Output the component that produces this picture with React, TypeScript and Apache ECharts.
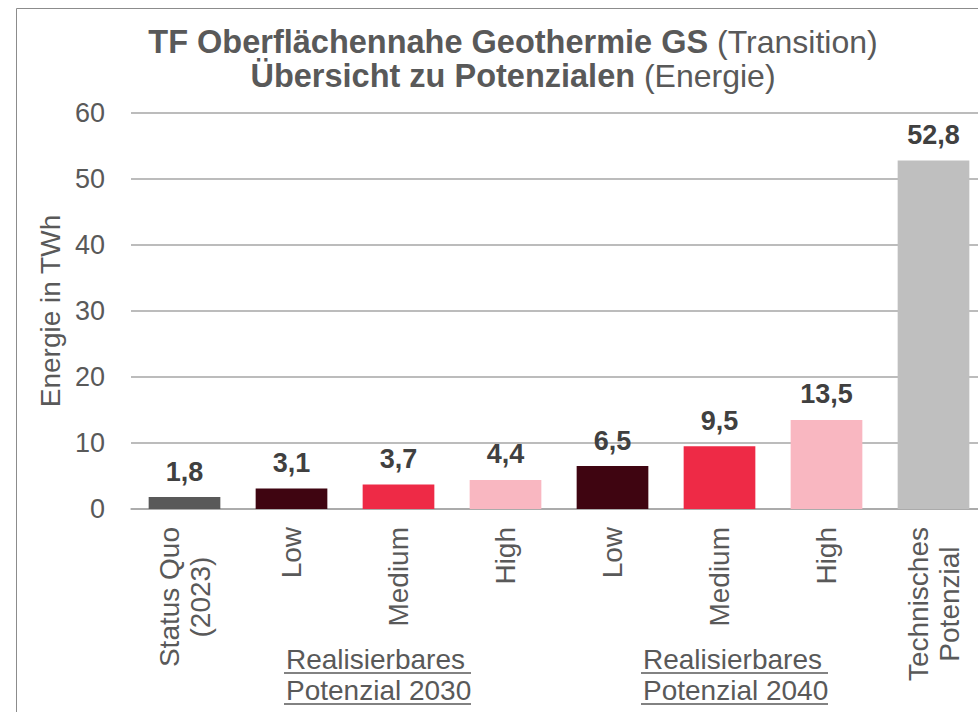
import React, { useEffect, useRef } from "react";
import * as echarts from "echarts";

const categories = [
  "Status Quo\n(2023)",
  "Low",
  "Medium",
  "High",
  "Low",
  "Medium",
  "High",
  "Technisches\nPotenzial",
];
const values = [1.8, 3.1, 3.7, 4.4, 6.5, 9.5, 13.5, 52.8];
const barColors = [
  "#595959",
  "#3F0511",
  "#EE2A46",
  "#F9B7C1",
  "#3F0511",
  "#EE2A46",
  "#F9B7C1",
  "#BFBFBF",
];
const yTicks = { min: 0, max: 60, interval: 10 };
const groupLabels = ["Realisierbares \nPotenzial 2030", "Realisierbares \nPotenzial 2040"];

const FONT = "'Liberation Sans', Arial, sans-serif";
const TXT = "#595959";

export default function App() {
  const ref = useRef<HTMLDivElement>(null);
  useEffect(() => {
    if (!ref.current) return;
    const chart = echarts.init(ref.current, undefined, { renderer: "svg" });
    const groupX = [286, 643];
    const lineY1 = 673;
    const lineY2 = 704;
    const groupW = 187;
    const graphic: any[] = [
      {
        type: "rect",
        shape: { x: 16.5, y: 8.5, width: 1200, height: 900 },
        style: { fill: "none", stroke: "#8C8C8C", lineWidth: 1 },
        silent: true,
        z: 0,
      },
      {
        type: "text",
        x: 513,
        y: 25,
        style: {
          text:
            "{b|TF Oberflächennahe Geothermie GS}{n| (Transition)}\n{b|Übersicht zu Potenzialen}{n| (Energie)}",
          align: "center",
          verticalAlign: "top",
          fill: TXT,
          rich: {
            b: { fontFamily: FONT, fontSize: 32.5, fontWeight: "bold", fill: TXT, lineHeight: 34 },
            n: { fontFamily: FONT, fontSize: 32, fill: TXT, lineHeight: 34 },
          },
        },
      },
    ];
    groupLabels.forEach((g, i) => {
      graphic.push({
        type: "text",
        x: groupX[i],
        y: 644,
        style: {
          text: g,
          align: "left",
          verticalAlign: "top",
          fontFamily: FONT,
          fontSize: 28,
          lineHeight: 31,
          fill: TXT,
        },
      });
      graphic.push({
        type: "line",
        shape: { x1: groupX[i] - 2, y1: lineY1, x2: groupX[i] - 2 + groupW, y2: lineY1 },
        style: { stroke: TXT, lineWidth: 1.5 },
      });
      graphic.push({
        type: "line",
        shape: { x1: groupX[i] - 2, y1: lineY2, x2: groupX[i] - 2 + groupW, y2: lineY2 },
        style: { stroke: TXT, lineWidth: 1.5 },
      });
    });

    chart.setOption({
      animation: false,
      grid: { left: 131, right: 13, top: 113, bottom: 203, containLabel: false },
      xAxis: {
        type: "category",
        data: categories,
        axisLine: { show: true, lineStyle: { color: "#A6A6A6", width: 1.5 } },
        axisTick: { show: false },
        axisLabel: {
          interval: 0,
          rotate: 90,
          margin: 18,
          color: TXT,
          fontFamily: FONT,
          fontSize: 28,
          lineHeight: 31,
          formatter: (v: string) =>
            v
              .split("\n")
              .map((s) => "{c|" + s + "}")
              .join("\n"),
          rich: {
            c: { align: "center", fontFamily: FONT, fontSize: 28, lineHeight: 31, color: TXT },
          },
        },
      },
      yAxis: {
        type: "value",
        min: yTicks.min,
        max: yTicks.max,
        interval: yTicks.interval,
        name: "Energie in TWh",
        nameLocation: "middle",
        nameGap: 65,
        nameTextStyle: { color: TXT, fontFamily: FONT, fontSize: 28 },
        axisLine: { show: false },
        axisTick: { show: false },
        axisLabel: { color: TXT, fontFamily: FONT, fontSize: 27, margin: 26 },
        splitLine: { lineStyle: { color: "#A6A6A6", width: 1.5 } },
      },
      series: [
        {
          type: "bar",
          data: values.map((v, i) => ({ value: v, itemStyle: { color: barColors[i] } })),
          barCategoryGap: "33%",
          label: {
            show: true,
            position: "top",
            distance: 12,
            color: "#404040",
            fontFamily: FONT,
            fontSize: 27,
            fontWeight: "bold",
            formatter: (p: any) => String(p.value).replace(".", ","),
          },
        },
      ],
      graphic,
    });
    return () => chart.dispose();
  }, []);
  return (
    <div style={{ position: "absolute", left: 0, top: 0, width: 978, height: 712, overflow: "hidden" }}>
      <div ref={ref} style={{ width: 1000, height: 712, background: "#fff" }} />
    </div>
  );
}
